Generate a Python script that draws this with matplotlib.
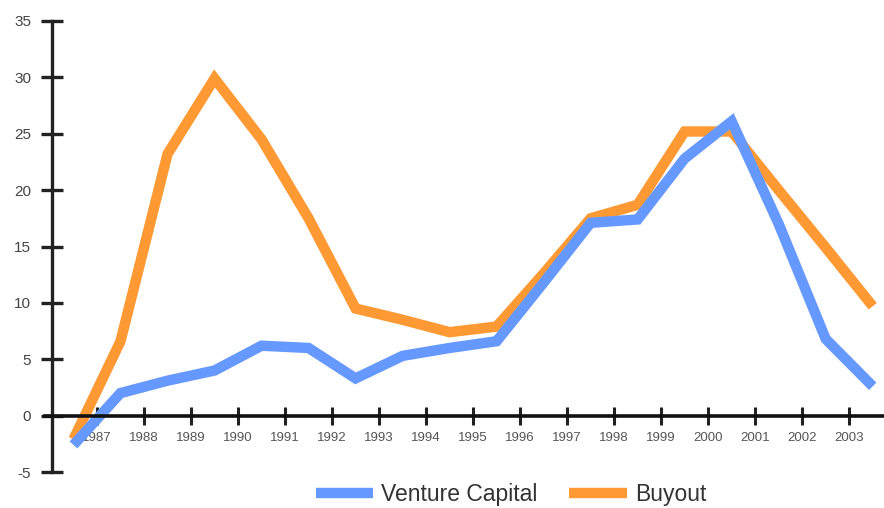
import numpy as np
import matplotlib.pyplot as plt

plt.rcParams['font.family'] = ['Liberation Sans', 'DejaVu Sans']
plt.rcParams['axes.unicode_minus'] = False

years = ['1987', '1988', '1989', '1990', '1991', '1992', '1993', '1994', '1995',
         '1996', '1997', '1998', '1999', '2000', '2001', '2002', '2003']
venture = [-2.6, 2.0, 3.1, 4.0, 6.2, 6.0, 3.3, 5.3, 6.0, 6.6, 11.8, 17.1, 17.4,
           22.8, 26.1, 17.0, 6.8, 2.6]
buyout = [-2.1, 6.6, 23.2, 29.9, 24.5, 17.5, 9.5, 8.5, 7.4, 7.9, 12.6, 17.5, 18.7,
          25.2, 25.2, 20.0, 14.9, 9.7]
yticks = [-5, 0, 5, 10, 15, 20, 25, 30, 35]

BLUE = '#6699ff'
ORANGE = '#ff9933'

fig = plt.figure(figsize=(8.84, 5.08), dpi=100)
ax = fig.add_axes([45 / 884, 36 / 508, 1 - 45 / 884, 451 / 508])

# points sit between the year ticks
xpos = np.arange(len(venture)) - 0.5
lb, = ax.plot(xpos, buyout, color=ORANGE, lw=7.5, solid_joinstyle='miter',
              solid_capstyle='butt', label='Buyout')
lv, = ax.plot(xpos, venture, color=BLUE, lw=7.5, solid_joinstyle='miter',
              solid_capstyle='butt', label='Venture Capital')

ax.set_xlim(-1.106, 16.74)
ax.set_ylim(-5, 35)

for s in ['top', 'right']:
    ax.spines[s].set_visible(False)
ax.spines['left'].set_position(('data', -0.957))
ax.spines['bottom'].set_position(('data', 0))
ax.spines['left'].set_linewidth(2.4)
ax.spines['bottom'].set_linewidth(2.6)
ax.spines['left'].set_color('#222222')
ax.spines['bottom'].set_color('#111111')

ax.set_yticks(yticks)
ax.set_xticks(np.arange(len(years)))
ax.set_xticklabels(years)
ax.tick_params(axis='y', direction='inout', length=16, width=2.4, color='#222222',
               labelsize=11, labelcolor='#444444', pad=7)
ax.tick_params(axis='x', direction='inout', length=13, width=2.2, color='#222222',
               labelsize=9.5, labelcolor='#555555', pad=5.5)

fig.legend(handles=[lv, lb], loc='center', bbox_to_anchor=(0.578, 0.026), ncol=2,
           frameon=False, fontsize=16.5, handlelength=2.5, handletextpad=0.35,
           columnspacing=1.4, labelcolor='#333333')

fig.savefig('out.png', dpi=100)
